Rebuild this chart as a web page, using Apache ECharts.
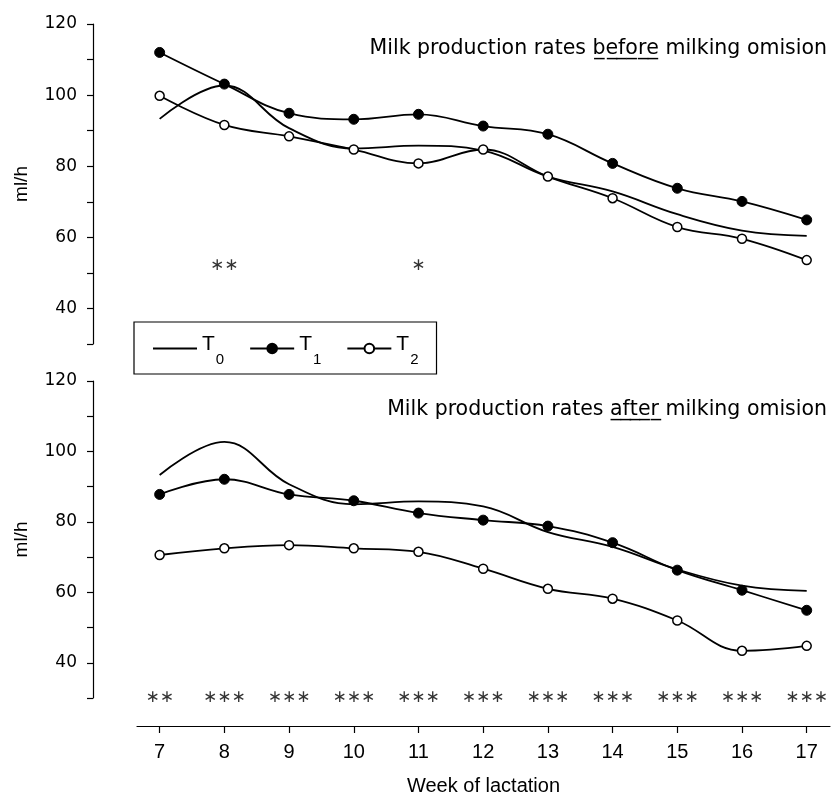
<!DOCTYPE html>
<html>
<head>
<meta charset="utf-8">
<script src="https://cdn.jsdelivr.net/npm/echarts@6/dist/echarts.min.js"></script>
<style>
  html, body { margin: 0; padding: 0; background: #fff; }
  #main { width: 832px; height: 798px; }
</style>
</head>
<body>
<div id="main"></div>
<script>
// weeks of lactation
var weeks = [7, 8, 9, 10, 11, 12, 13, 14, 15, 16, 17];
// control (same curve in both panels)
var t0 = [93.3, 102.7, 90.7, 85.0, 85.8, 84.4, 77.1, 72.9, 66.5, 61.9, 60.4];
// before milking omission
var t1Before = [112.0, 103.1, 94.9, 93.2, 94.6, 91.3, 89.0, 80.8, 73.8, 70.1, 64.9];
var t2Before = [99.8, 91.6, 88.4, 84.7, 80.8, 84.7, 77.1, 71.0, 62.9, 59.6, 53.6];
// after milking omission
var t1After = [87.8, 92.1, 87.8, 86.0, 82.5, 80.5, 78.8, 74.1, 66.3, 60.6, 54.9];
var t2After = [70.6, 72.5, 73.4, 72.5, 71.5, 66.7, 61.0, 58.2, 52.0, 43.4, 44.8];
// significance marks
var starsBeforeWeeks = [8, 11];
var starsBefore = ['**', '*'];
var starsAfter = ['**', '***', '***', '***', '***', '***', '***', '***', '***', '***', '***'];
var yTickLabels = [40, 60, 80, 100, 120];

var font = 'DejaVu Sans, sans-serif';
var font2 = 'Liberation Sans, Arial, sans-serif';

function pairs(xs, ys) {
  return xs.map(function (x, i) { return [x, ys[i]]; });
}

var chart = echarts.init(document.getElementById('main'));

var yAxisBase = function (gridIndex) {
  return {
    type: 'value',
    gridIndex: gridIndex,
    min: 30,
    max: 120,
    interval: 10,
    offset: 44,
    name: 'ml/h',
    nameLocation: 'middle',
    nameGap: 62,
    nameTextStyle: { color: '#000', fontSize: 19, fontFamily: font2 },
    axisLine: { show: true, lineStyle: { color: '#000', width: 1.2 } },
    axisTick: { show: true, length: 6, lineStyle: { color: '#000', width: 1.2 } },
    axisLabel: {
      color: '#000', fontSize: 17, fontFamily: font, margin: 16,
      formatter: function (v) { return yTickLabels.indexOf(v) >= 0 ? String(v) : ''; }
    },
    splitLine: { show: false }
  };
};

var lineStyle = { color: '#000', width: 1.8 };

function starSeries(xIndex, data) {
  return {
    type: 'scatter',
    xAxisIndex: xIndex,
    yAxisIndex: xIndex,
    symbolSize: 1,
    itemStyle: { color: 'rgba(0,0,0,0)' },
    silent: true,
    label: {
      show: true,
      position: 'inside',
      color: '#000',
      fontSize: 17,
      fontFamily: font,
      formatter: function (p) { return p.value[2].replace(/\*/g, '\u2217'); }
    },
    data: data
  };
}

chart.setOption({
  animation: false,
  title: [
    {
      text: 'Milk production rates b\u0332e\u0332f\u0332o\u0332r\u0332e\u0332 milking omision',
      right: 0, top: 33,
      textStyle: { color: '#000', fontSize: 20.5, fontWeight: 'normal', fontFamily: font }
    },
    {
      text: 'Milk production rates a\u0332f\u0332t\u0332e\u0332r\u0332 milking omision',
      right: 0, top: 394,
      textStyle: { color: '#000', fontSize: 20.5, fontWeight: 'normal', fontFamily: font }
    }
  ],
  legend: {
    left: 134,
    top: 322,
    data: [
      { name: 'T0', itemStyle: { color: 'rgba(0,0,0,0)', borderWidth: 0 } },
      'T1',
      'T2'
    ],
    orient: 'horizontal',
    borderColor: '#000',
    borderWidth: 1.2,
    padding: [12, 18, 7, 18],
    itemWidth: 44,
    itemHeight: 12,
    itemGap: 25,
    formatter: function (name) { return '{t|T}{s|' + name.slice(1) + '}'; },
    textStyle: {
      color: '#000', fontFamily: font2,
      rich: {
        t: { fontSize: 21, fontFamily: font2, padding: [6, 0, 14, 0] },
        s: { fontSize: 15, fontFamily: font2, padding: [22, 0, 0, 1] }
      }
    }
  },
  grid: [
    { left: 137, right: 2, top: 24, bottom: 454 },
    { left: 137, right: 2, top: 381, bottom: 100 }
  ],
  xAxis: [
    { type: 'value', gridIndex: 0, min: 6.65, max: 17.36, show: false },
    {
      type: 'value', gridIndex: 1, min: 6.65, max: 17.36,
      offset: 28,
      name: 'Week of lactation',
      nameLocation: 'middle',
      nameGap: 50,
      nameTextStyle: { color: '#000', fontSize: 20, fontFamily: font2 },
      axisLine: { show: true, lineStyle: { color: '#000', width: 1.2 } },
      axisTick: { show: true, length: 7, customValues: weeks, lineStyle: { color: '#000', width: 1.2 } },
      axisLabel: { color: '#000', fontSize: 20, fontFamily: font2, margin: 16, customValues: weeks },
      splitLine: { show: false }
    }
  ],
  yAxis: [yAxisBase(0), yAxisBase(1)],
  series: [
    {
      name: 'T0', type: 'line', xAxisIndex: 0, yAxisIndex: 0, smooth: 0.4,
      showSymbol: false, symbol: 'none', lineStyle: lineStyle, itemStyle: { color: '#000' },
      data: pairs(weeks, t0)
    },
    {
      name: 'T1', type: 'line', xAxisIndex: 0, yAxisIndex: 0, smooth: 0.4,
      symbol: 'circle', symbolSize: 10, lineStyle: lineStyle,
      itemStyle: { color: '#000', borderColor: '#000', borderWidth: 1 },
      data: pairs(weeks, t1Before)
    },
    {
      name: 'T2', type: 'line', xAxisIndex: 0, yAxisIndex: 0, smooth: 0.4,
      symbol: 'circle', symbolSize: 9, lineStyle: lineStyle,
      itemStyle: { color: '#fff', borderColor: '#000', borderWidth: 1.5 },
      data: pairs(weeks, t2Before)
    },
    {
      name: 'T0', type: 'line', xAxisIndex: 1, yAxisIndex: 1, smooth: 0.4,
      showSymbol: false, symbol: 'none', lineStyle: lineStyle, itemStyle: { color: '#000' },
      data: pairs(weeks, t0)
    },
    {
      name: 'T1', type: 'line', xAxisIndex: 1, yAxisIndex: 1, smooth: 0.4,
      symbol: 'circle', symbolSize: 10, lineStyle: lineStyle,
      itemStyle: { color: '#000', borderColor: '#000', borderWidth: 1 },
      data: pairs(weeks, t1After)
    },
    {
      name: 'T2', type: 'line', xAxisIndex: 1, yAxisIndex: 1, smooth: 0.4,
      symbol: 'circle', symbolSize: 9, lineStyle: lineStyle,
      itemStyle: { color: '#fff', borderColor: '#000', borderWidth: 1.5 },
      data: pairs(weeks, t2After)
    },
    starSeries(0, starsBeforeWeeks.map(function (w, i) { return [w, 52, starsBefore[i]]; })),
    starSeries(1, weeks.map(function (w, i) { return [w, 30, starsAfter[i]]; }))
  ]
});
</script>
</body>
</html>
